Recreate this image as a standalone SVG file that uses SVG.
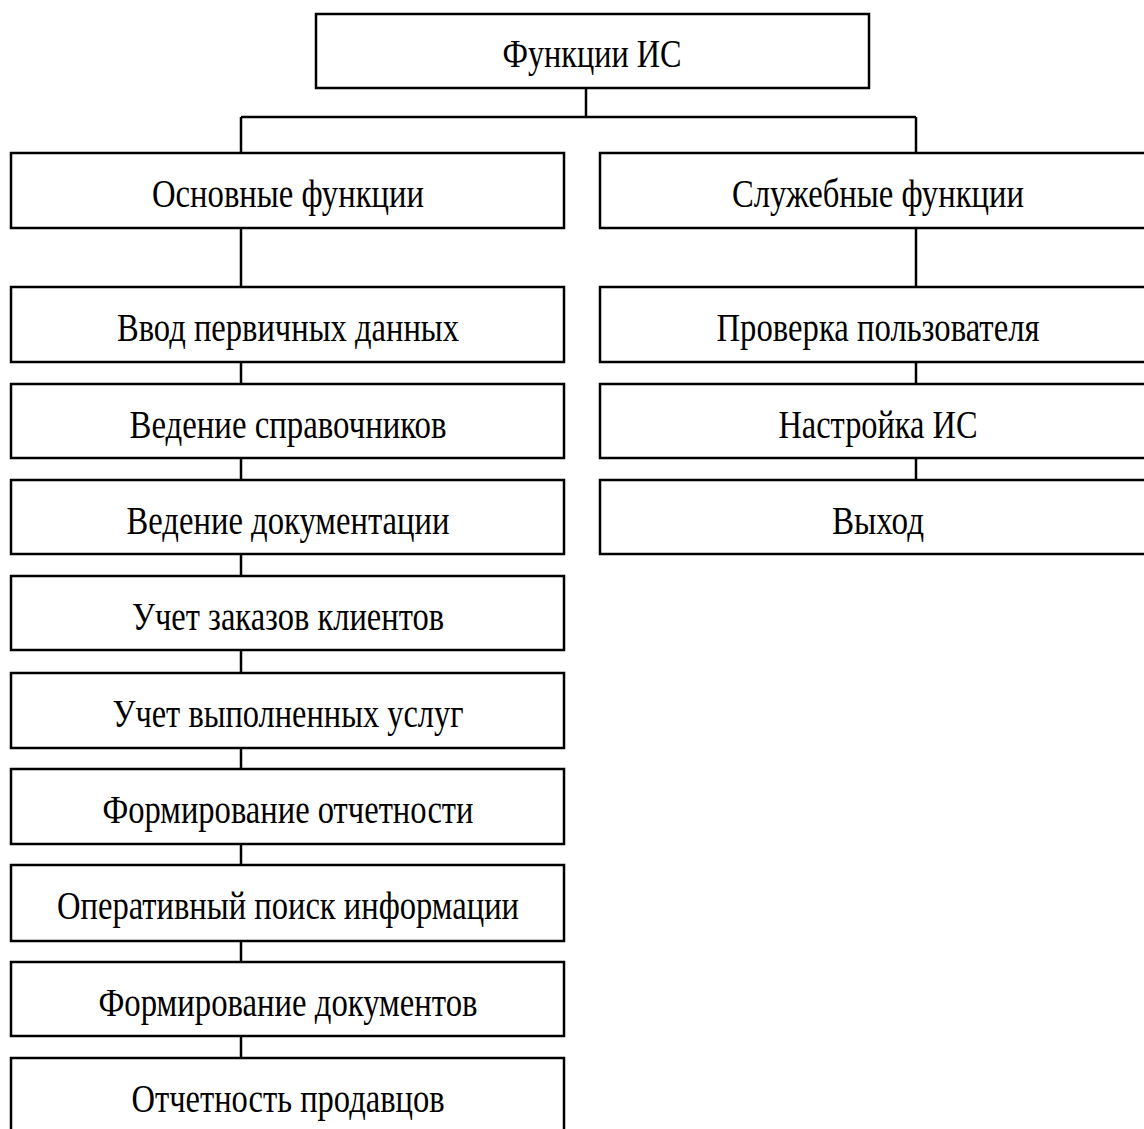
<svg xmlns="http://www.w3.org/2000/svg" width="1144" height="1129" viewBox="0 0 1144 1129">
<style>
.box{fill:#fff;stroke:#000;stroke-width:2.5}
.lbl{font-family:'Liberation Serif','DejaVu Serif',serif;font-size:39px;fill:#000;text-anchor:middle}
.con{fill:none;stroke:#000;stroke-width:2.5}
</style>
<rect width="1144" height="1129" fill="#fff"/>
<g id="connectors">
<path class="con" d="M586 88V117M241 117H916M241 117V153M916 117V153"/>
<path class="con" d="M241 228V1058"/>
<path class="con" d="M916 228V480"/>
</g>
<g id="n-root"><rect class="box" x="316" y="14" width="553" height="74"/><text class="lbl" x="592" y="67" textLength="179" lengthAdjust="spacingAndGlyphs">Функции ИС</text></g>
<g id="n-main"><rect class="box" x="11" y="153" width="553" height="75"/><text class="lbl" x="288" y="207" textLength="272" lengthAdjust="spacingAndGlyphs">Основные функции</text></g>
<g id="n-serv"><rect class="box" x="600" y="153" width="553" height="75"/><text class="lbl" x="878" y="207" textLength="292" lengthAdjust="spacingAndGlyphs">Служебные функции</text></g>
<g id="n-l1"><rect class="box" x="11" y="287" width="553" height="75"/><text class="lbl" x="288" y="341" textLength="342" lengthAdjust="spacingAndGlyphs">Ввод первичных данных</text></g>
<g id="n-l2"><rect class="box" x="11" y="384" width="553" height="74"/><text class="lbl" x="288" y="438" textLength="317" lengthAdjust="spacingAndGlyphs">Ведение справочников</text></g>
<g id="n-l3"><rect class="box" x="11" y="480" width="553" height="74"/><text class="lbl" x="288" y="534" textLength="323" lengthAdjust="spacingAndGlyphs">Ведение документации</text></g>
<g id="n-l4"><rect class="box" x="11" y="576" width="553" height="74"/><text class="lbl" x="288" y="630" textLength="312" lengthAdjust="spacingAndGlyphs">Учет заказов клиентов</text></g>
<g id="n-l5"><rect class="box" x="11" y="673" width="553" height="75"/><text class="lbl" x="288" y="727" textLength="351" lengthAdjust="spacingAndGlyphs">Учет выполненных услуг</text></g>
<g id="n-l6"><rect class="box" x="11" y="769" width="553" height="75"/><text class="lbl" x="288" y="823" textLength="371" lengthAdjust="spacingAndGlyphs">Формирование отчетности</text></g>
<g id="n-l7"><rect class="box" x="11" y="865" width="553" height="76"/><text class="lbl" x="288" y="919" textLength="462" lengthAdjust="spacingAndGlyphs">Оперативный поиск информации</text></g>
<g id="n-l8"><rect class="box" x="11" y="962" width="553" height="74"/><text class="lbl" x="288" y="1016" textLength="379" lengthAdjust="spacingAndGlyphs">Формирование документов</text></g>
<g id="n-l9"><rect class="box" x="11" y="1058" width="553" height="75"/><text class="lbl" x="288" y="1112" textLength="313" lengthAdjust="spacingAndGlyphs">Отчетность продавцов</text></g>
<g id="n-r1"><rect class="box" x="600" y="287" width="553" height="75"/><text class="lbl" x="878" y="341" textLength="323" lengthAdjust="spacingAndGlyphs">Проверка пользователя</text></g>
<g id="n-r2"><rect class="box" x="600" y="384" width="553" height="74"/><text class="lbl" x="878" y="438" textLength="199" lengthAdjust="spacingAndGlyphs">Настройка ИС</text></g>
<g id="n-r3"><rect class="box" x="600" y="480" width="553" height="74"/><text class="lbl" x="878" y="534" textLength="92" lengthAdjust="spacingAndGlyphs">Выход</text></g>
</svg>
